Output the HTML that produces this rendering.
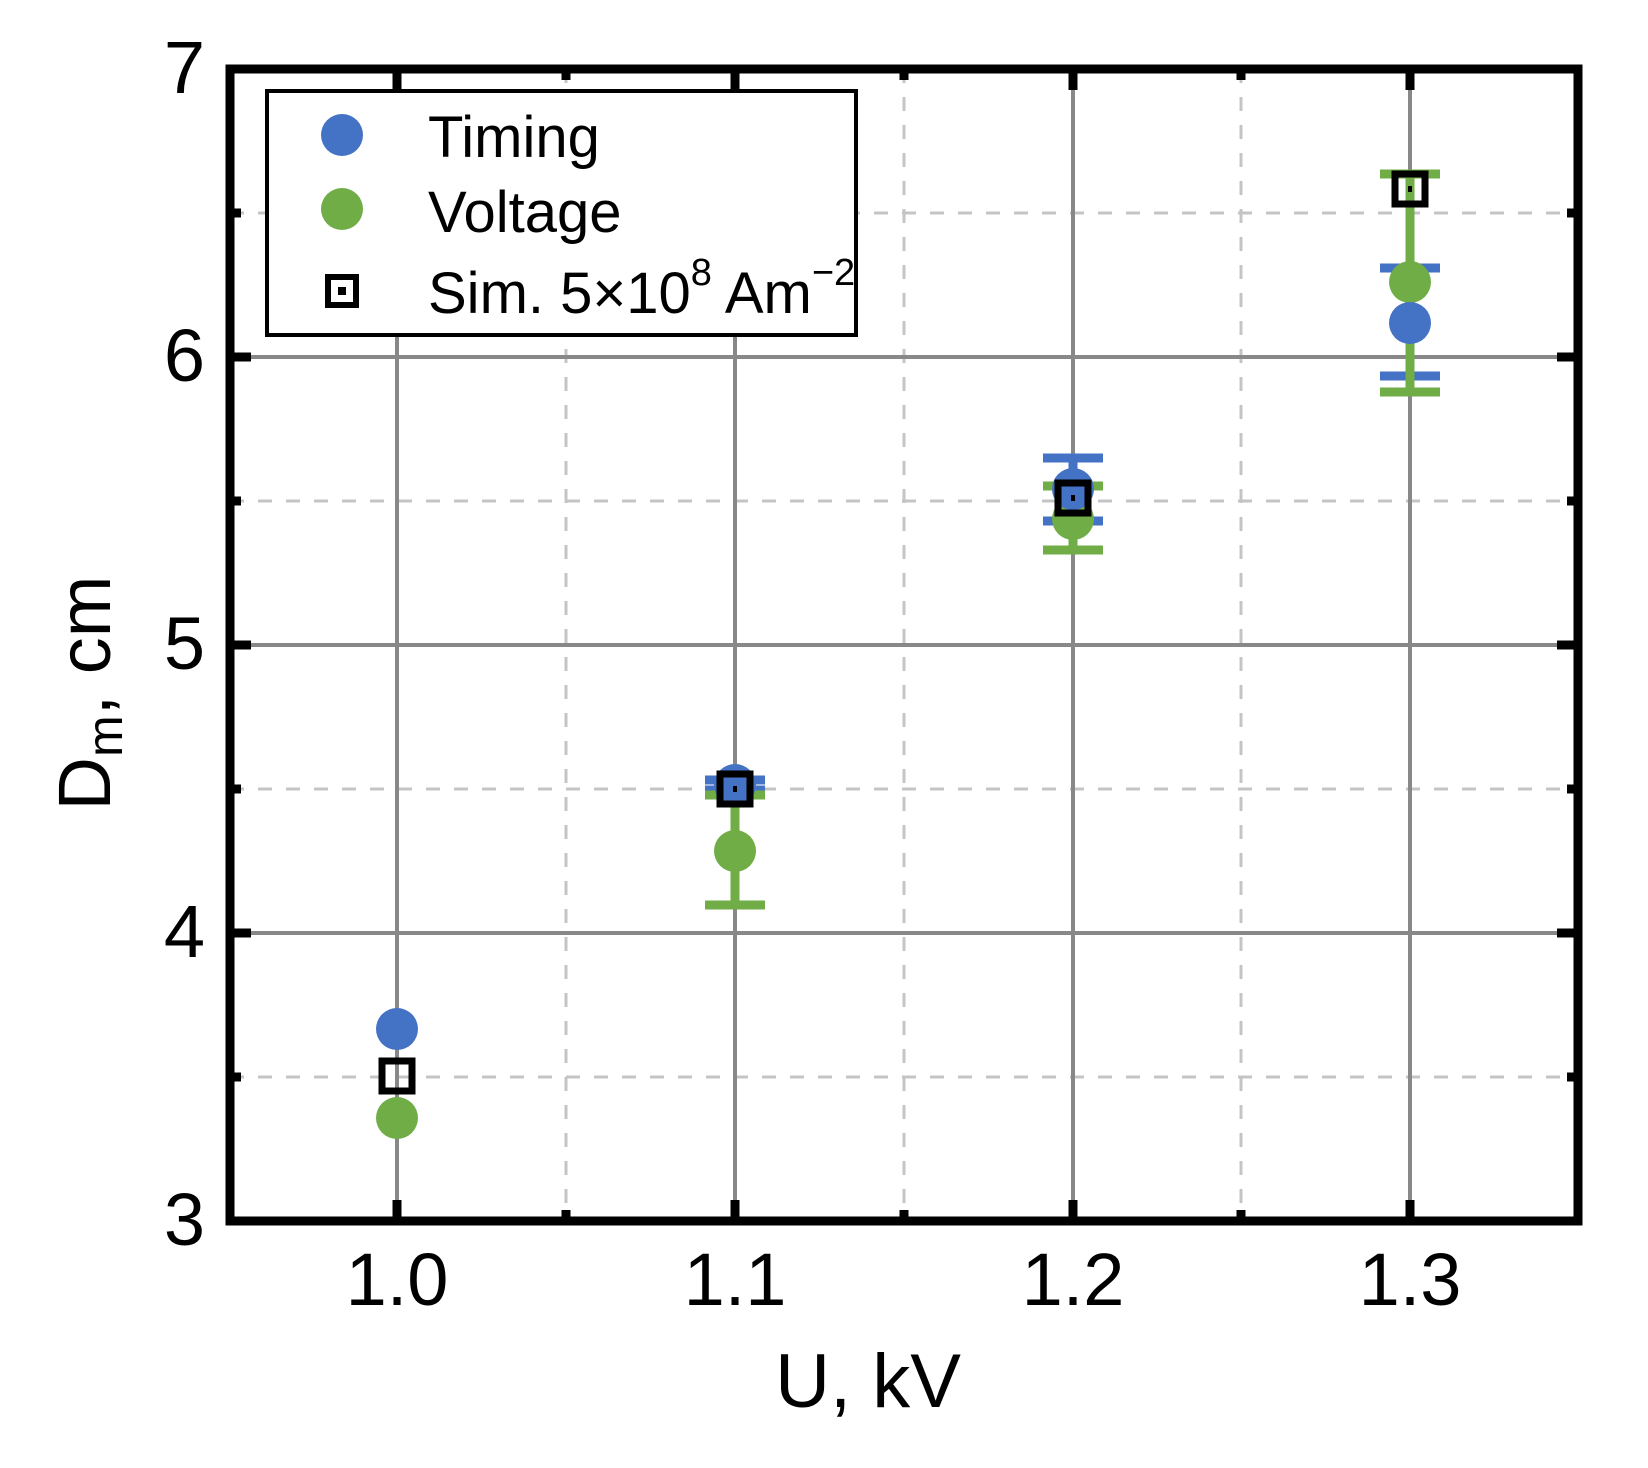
<!DOCTYPE html>
<html><head><meta charset="utf-8"><style>html,body{margin:0;padding:0;background:#fff}svg{display:block}</style></head>
<body>
<svg width="1648" height="1468" viewBox="0 0 1648 1468" xmlns="http://www.w3.org/2000/svg" font-family="Liberation Sans, Arial, sans-serif">
<!-- minor dashed grid -->
<g stroke="#c4c4c4" stroke-width="3" stroke-dasharray="14,14">
<line x1="566" y1="69" x2="566" y2="1221"/><line x1="904" y1="69" x2="904" y2="1221"/><line x1="1241" y1="69" x2="1241" y2="1221"/>
<line x1="230" y1="213" x2="1578" y2="213"/><line x1="230" y1="501" x2="1578" y2="501"/><line x1="230" y1="789" x2="1578" y2="789"/><line x1="230" y1="1077" x2="1578" y2="1077"/>
</g>
<!-- major grid -->
<g stroke="#888" stroke-width="4">
<line x1="397" y1="69" x2="397" y2="1221"/><line x1="735" y1="69" x2="735" y2="1221"/><line x1="1073" y1="69" x2="1073" y2="1221"/><line x1="1410" y1="69" x2="1410" y2="1221"/>
<line x1="230" y1="357" x2="1578" y2="357"/><line x1="230" y1="645" x2="1578" y2="645"/><line x1="230" y1="933" x2="1578" y2="933"/>
</g>
<!-- error bars -->
<g stroke-width="9">
<g stroke="#4472C4">
<line x1="735" y1="780" x2="735" y2="790"/><line x1="705" y1="780" x2="765" y2="780"/><line x1="705" y1="790" x2="765" y2="790"/>
<line x1="1073" y1="458" x2="1073" y2="521"/><line x1="1043" y1="458" x2="1103" y2="458"/><line x1="1043" y1="521" x2="1103" y2="521"/>
<line x1="1410" y1="268" x2="1410" y2="376"/><line x1="1380" y1="268" x2="1440" y2="268"/><line x1="1380" y1="376" x2="1440" y2="376"/>
</g>
<g stroke="#70AD47">
<line x1="735" y1="795" x2="735" y2="905"/><line x1="705" y1="795" x2="765" y2="795"/><line x1="705" y1="905" x2="765" y2="905"/>
<line x1="1073" y1="486" x2="1073" y2="550"/><line x1="1043" y1="486" x2="1103" y2="486"/><line x1="1043" y1="550" x2="1103" y2="550"/>
<line x1="1410" y1="174" x2="1410" y2="392"/><line x1="1380" y1="174" x2="1440" y2="174"/><line x1="1380" y1="392" x2="1440" y2="392"/>
</g>
</g>
<!-- points -->
<g fill="#70AD47">
<circle cx="397" cy="1118" r="21"/><circle cx="735" cy="851" r="21"/><circle cx="1073" cy="519" r="21"/><circle cx="1410" cy="282" r="21"/>
</g>
<g fill="#4472C4">
<circle cx="397" cy="1029" r="21"/><circle cx="735" cy="785" r="21"/><circle cx="1073" cy="489" r="21"/><circle cx="1410" cy="323" r="21"/>
</g>
<g fill="none" stroke="#000" stroke-width="7">
<rect x="382" y="1061" width="30" height="30"/><rect x="720" y="774" width="30" height="30"/><rect x="1058" y="483" width="30" height="30"/><rect x="1395" y="174" width="30" height="30"/>
</g>
<g fill="#000">
<rect x="733" y="786" width="4" height="6"/><rect x="1071" y="495" width="4" height="6"/><rect x="1408" y="186" width="4" height="6"/>
</g>
<!-- legend -->
<rect x="267" y="91" width="589" height="244" fill="#fff" stroke="#000" stroke-width="4"/>
<circle cx="342" cy="135" r="21" fill="#4472C4"/>
<circle cx="342" cy="209" r="21" fill="#70AD47"/>
<rect x="328" y="277" width="28" height="28" fill="none" stroke="#000" stroke-width="6"/>
<rect x="338" y="287" width="8" height="8" fill="#000"/>
<g font-size="58" fill="#000">
<text x="428" y="157">Timing</text>
<text x="428" y="232">Voltage</text>
<text x="428" y="313">Sim. 5×10<tspan font-size="38" dy="-28">8</tspan><tspan dy="28"> Am</tspan><tspan font-size="38" dy="-28">−2</tspan></text>
</g>
<!-- ticks -->
<g stroke="#000" stroke-width="9">
<line x1="397" y1="1221" x2="397" y2="1200"/><line x1="735" y1="1221" x2="735" y2="1200"/><line x1="1073" y1="1221" x2="1073" y2="1200"/><line x1="1410" y1="1221" x2="1410" y2="1200"/>
<line x1="397" y1="69" x2="397" y2="90"/><line x1="735" y1="69" x2="735" y2="90"/><line x1="1073" y1="69" x2="1073" y2="90"/><line x1="1410" y1="69" x2="1410" y2="90"/>
<line x1="566" y1="1221" x2="566" y2="1210"/><line x1="904" y1="1221" x2="904" y2="1210"/><line x1="1241" y1="1221" x2="1241" y2="1210"/>
<line x1="566" y1="69" x2="566" y2="80"/><line x1="904" y1="69" x2="904" y2="80"/><line x1="1241" y1="69" x2="1241" y2="80"/>
<line x1="230" y1="357" x2="251" y2="357"/><line x1="230" y1="645" x2="251" y2="645"/><line x1="230" y1="933" x2="251" y2="933"/>
<line x1="1578" y1="357" x2="1557" y2="357"/><line x1="1578" y1="645" x2="1557" y2="645"/><line x1="1578" y1="933" x2="1557" y2="933"/>
<line x1="230" y1="213" x2="241" y2="213"/><line x1="230" y1="501" x2="241" y2="501"/><line x1="230" y1="789" x2="241" y2="789"/><line x1="230" y1="1077" x2="241" y2="1077"/>
<line x1="1578" y1="213" x2="1567" y2="213"/><line x1="1578" y1="501" x2="1567" y2="501"/><line x1="1578" y1="789" x2="1567" y2="789"/><line x1="1578" y1="1077" x2="1567" y2="1077"/>
</g>
<rect x="230" y="69" width="1348" height="1152" fill="none" stroke="#000" stroke-width="9"/>
<!-- tick labels -->
<g font-size="74" fill="#000" text-anchor="middle">
<text x="397" y="1305">1.0</text><text x="735" y="1305">1.1</text><text x="1073" y="1305">1.2</text><text x="1410" y="1305">1.3</text>
</g>
<g font-size="74" fill="#000" text-anchor="end">
<text x="205" y="1245">3</text><text x="205" y="957">4</text><text x="205" y="669">5</text><text x="205" y="381">6</text><text x="205" y="93">7</text>
</g>
<text x="868" y="1407" font-size="76" text-anchor="middle">U, kV</text>
<text transform="translate(110,693) rotate(-90)" font-size="74" text-anchor="middle">D<tspan font-size="50" dy="12">m</tspan><tspan dy="-12">, cm</tspan></text>
</svg>
</body></html>
